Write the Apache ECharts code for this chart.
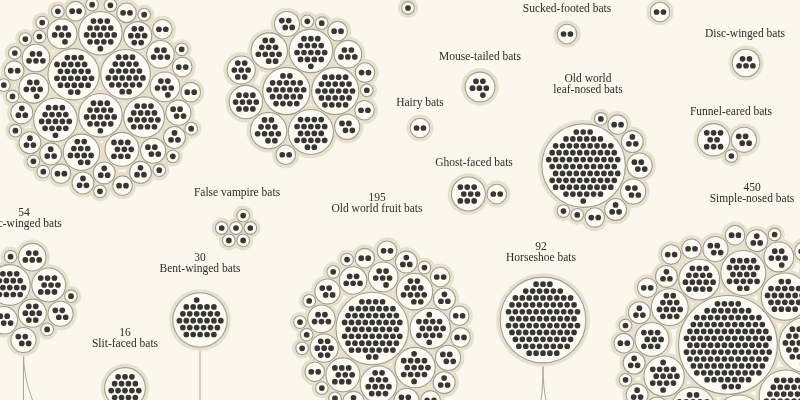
<!DOCTYPE html>
<html><head><meta charset="utf-8">
<script src="https://cdn.jsdelivr.net/npm/echarts/dist/echarts.min.js"></script>
<style>html,body{margin:0;padding:0;background:#FBF7EC;}#c{width:800px;height:400px;}</style>
</head><body><div id="c"></div>
<script>
// ---------- DATA: species per genus, one array per family ----------
const newWorldLeafNosedBats = [26,25,17,17,17,16,11,9,7,6,6,6,5,5,4,4,3,3,3,3,3,3,3,2,2,2,2,2,2,2,2,1,1,1,1,1,1,1,1,1,1,1,1,1,1,1,1,1,1];
const freeTailedBats = [24,22,20,17,11,11,10,7,5,4,4,2,2,2,2,1,1,1];
const bumblebeeBats = [1];
const bulldogBats = [2];
const suckerFootedBats = [2];
const mouseTailedBats = [6];
const discWingedBats = [5];
const hairyBats = [2];
const oldWorldLeafNosedBats = [85,4,4,3,3,2,2,1,1,1];
const funnelEaredBats = [8,4,1];
const ghostFacedBats = [9,2];
const falseVampireBats = [1,1,1,1,1,1];
const sacWingedBats = [16,9,7,5,5,4,4,1,1,1,1];
const bentWingedBats = [30];
const slitFacedBats = [16];
const oldWorldFruitBats = [62,14,14,12,11,9,7,6,5,5,4,4,4,3,3,3,3,2,2,2,2,2,2,2,2,1,1,1,1,1,1,1,1,1,1];
const horseshoeBats = [92];
const simpleNosedBats = [125,32,28,24,22,20,18,16,14,12,10,9,8,8,7,7,6,6,5,5,5,4,4,4,4,3,3,3,3,3,2,2,2,2,2,2,2,2,2,2,1,1,1,1,1,1,1,1,1,1,1,1];

const familyNames = {
  suckerFooted:['Sucked-footed bats'], mouseTailed:['Mouse-tailed bats'], discWinged:['Disc-winged bats'],
  hairy:['Hairy bats'], oldWorldLeafNosed:['Old world','leaf-nosed bats'], funnelEared:['Funnel-eared bats'],
  ghostFaced:['Ghost-faced bats'], falseVampire:['False vampire bats'], sacWinged:['Sac-winged bats'],
  bentWinged:['Bent-winged bats'], slitFaced:['Slit-faced bats'], oldWorldFruit:['Old world fruit bats'],
  horseshoe:['Horseshoe bats'], simpleNosed:['Simple-nosed bats']
};
const familiesWithCount = ['sacWinged','bentWinged','slitFaced','oldWorldFruit','horseshoe','simpleNosed'];

// ---------- LAYOUT (positions only) ----------
const layout = {
  newWorldLeafNosed:{at:[99,98]}, freeTailed:{at:[301,88]}, bumblebee:{at:[408,8]}, bulldog:{at:[660,12]},
  suckerFooted:{at:[567,34],label:[567,9]}, mouseTailed:{at:[480,87],label:[480,57]},
  discWinged:{at:[746,63],label:[745,34]}, hairy:{at:[420,128],label:[420,103]},
  oldWorldLeafNosed:{at:[597,170],label:[588,79]}, funnelEared:{at:[727,143],label:[731,112]},
  ghostFaced:{at:[479,194],label:[474,163]}, falseVampire:{at:[236,228],label:[237,193]},
  sacWinged:{at:[30,298],label:[24,213],stems:[0,9]}, bentWinged:{at:[200,320],label:[200,258],stems:[0]},
  slitFaced:{at:[125,388],label:[125,333]}, oldWorldFruit:{at:[382,332],label:[377,198]},
  horseshoe:{at:[543,320],label:[541,247],stems:[-2,3]}, simpleNosed:{at:[741,350],label:[752,188]}
};
const families = [
  ['newWorldLeafNosed',newWorldLeafNosedBats],['freeTailed',freeTailedBats],['bumblebee',bumblebeeBats],
  ['bulldog',bulldogBats],['suckerFooted',suckerFootedBats],['mouseTailed',mouseTailedBats],
  ['discWinged',discWingedBats],['hairy',hairyBats],['oldWorldLeafNosed',oldWorldLeafNosedBats],
  ['funnelEared',funnelEaredBats],['ghostFaced',ghostFacedBats],['falseVampire',falseVampireBats],
  ['sacWinged',sacWingedBats],['bentWinged',bentWingedBats],['slitFaced',slitFacedBats],
  ['oldWorldFruit',oldWorldFruitBats],['horseshoe',horseshoeBats],['simpleNosed',simpleNosedBats]
];

const SX=6.9, SY=6.9, DOT_R=2.85, PAD=3.5, GAP=1.6, HALO=3.8, LINE_H=10.5;

function dotLayout(n){
  const h=SX/2, offs=[[0,0],[h,0],[h,SY/3],[0,SY/2],[h/2,SY/4],[h,SY/2]];
  let best=null;
  const R=Math.sqrt(n)*5+12, jr=Math.ceil(R/SY)+1, ir=Math.ceil(R/SX)+1;
  for(const [ox,oy] of offs){
    const pts=[];
    for(let j=-jr;j<=jr;j++)for(let i=-ir;i<=ir;i++){
      const x=i*SX+(Math.abs(j)%2?SX/2:0), y=j*SY;
      pts.push([x,y,Math.hypot(x-ox,y-oy),Math.atan2(y-oy,x-ox)]);
    }
    pts.sort((a,b)=>Math.abs(a[2]-b[2])>1e-6?a[2]-b[2]:a[3]-b[3]);
    const sel=pts.slice(0,n);
    let cx=0,cy=0; sel.forEach(p=>{cx+=p[0];cy+=p[1];}); cx/=n; cy/=n;
    const d=sel.map(p=>[p[0]-cx,p[1]-cy]);
    const mr=Math.max(...d.map(p=>Math.hypot(p[0],p[1])));
    if(!best||mr<best.mr-1e-6) best={mr,d};
  }
  return best;
}

function pack(items){
  const order=items.slice().sort((a,b)=>b.r-a.r);
  const placed=[];
  for(const c of order){
    if(!placed.length){c.x=0;c.y=0;placed.push(c);continue;}
    if(placed.length===1){c.x=placed[0].r+c.r+GAP;c.y=0;placed.push(c);continue;}
    let sw=0,mx=0,my=0;
    for(const p of placed){const w=p.r*p.r;sw+=w;mx+=p.x*w;my+=p.y*w;}
    mx/=sw;my/=sw;
    let best=null,bestD=Infinity;
    for(let a=0;a<placed.length;a++)for(let b=a+1;b<placed.length;b++){
      const A=placed[a],B=placed[b];
      const ra=A.r+c.r+GAP, rb=B.r+c.r+GAP;
      const dx=B.x-A.x, dy=B.y-A.y, d=Math.hypot(dx,dy);
      if(d===0||d>ra+rb||d<Math.abs(ra-rb))continue;
      const aa=(ra*ra-rb*rb+d*d)/(2*d), h=Math.sqrt(Math.max(0,ra*ra-aa*aa));
      const px=A.x+aa*dx/d, py=A.y+aa*dy/d;
      for(const s of [1,-1]){
        const x=px-s*h*dy/d, y=py+s*h*dx/d;
        const dist=Math.hypot(x-mx,y-my);
        if(dist>=bestD)continue;
        let ok=true;
        for(const q of placed){if(Math.hypot(x-q.x,y-q.y)<q.r+c.r+GAP-1e-6){ok=false;break;}}
        if(ok){best=[x,y];bestD=dist;}
      }
    }
    c.x=best[0];c.y=best[1];placed.push(c);
  }
  return placed;
}

const haloData=[], circleData=[], dotData=[], labelItems=[], stemData=[];
for(const [key,genera] of families){
  const L=layout[key];
  const items=genera.map(n=>{const dl=dotLayout(n);return {n,dots:dl.d,r:dl.mr+DOT_R+PAD};});
  const placed=pack(items);
  let x0=Infinity,x1=-Infinity,y0=Infinity,y1=-Infinity;
  placed.forEach(c=>{x0=Math.min(x0,c.x-c.r-HALO);x1=Math.max(x1,c.x+c.r+HALO);y0=Math.min(y0,c.y-c.r-HALO);y1=Math.max(y1,c.y+c.r+HALO);});
  const ox=L.at[0]-(x0+x1)/2, oy=L.at[1]-(y0+y1)/2;
  let low=null;
  placed.forEach(c=>{
    const cx=c.x+ox, cy=c.y+oy;
    haloData.push([cx,cy,c.r+HALO]);
    circleData.push([cx,cy,c.r]);
    c.dots.forEach(d=>dotData.push([cx+d[0],cy+d[1],DOT_R]));
    if(!low||cy+c.r>low[1]+low[2]) low=[cx,cy,c.r];
  });
  if(L.stems){
    const sx=low[0], sy=low[1]+low[2];
    L.stems.forEach(e=>stemData.push([sx,sy,sx+e,400,sx,sy+25]));
  }
  if(L.label){
    const total=genera.reduce((s,v)=>s+v,0);
    const lines=(familiesWithCount.includes(key)?[String(total)]:[]).concat(familyNames[key]);
    lines.forEach((t,i)=>labelItems.push({x:L.label[0],y:L.label[1]+i*LINE_H,t}));
  }
}

function circleSeries(data,style){
  return {type:'custom',coordinateSystem:'cartesian2d',data,silent:true,animation:false,
    renderItem:(p,api)=>{const c=api.coord([api.value(0),api.value(1)]);const r=api.size([api.value(2),0])[0];
      return {type:'circle',shape:{cx:c[0],cy:c[1],r},style};}};
}

const chart=echarts.init(document.getElementById('c'),null,{renderer:'canvas'});
chart.setOption({
  backgroundColor:'#FBF7EC',
  grid:{left:0,right:0,top:0,bottom:0},
  xAxis:{type:'value',min:0,max:800,show:false},
  yAxis:{type:'value',min:0,max:400,inverse:true,show:false},
  series:[
    {type:'custom',coordinateSystem:'cartesian2d',data:stemData,silent:true,animation:false,
      renderItem:(p,api)=>{const a=api.coord([api.value(0),api.value(1)]),b=api.coord([api.value(2),api.value(3)]),c=api.coord([api.value(4),api.value(5)]);
        return {type:'bezierCurve',shape:{x1:a[0],y1:a[1],x2:b[0],y2:b[1],cpx1:c[0],cpy1:c[1]},style:{stroke:'#ADA79A',lineWidth:1,fill:null}};}},
    circleSeries(haloData,{fill:'#E7E0CD'}),
    circleSeries(circleData,{fill:'#FDFAF3',stroke:'#A39D8E',lineWidth:1.1}),
    circleSeries(dotData,{fill:'#383532'}),
    {type:'custom',coordinateSystem:'cartesian2d',data:labelItems.map(l=>[l.x,l.y]),silent:true,animation:false,
      renderItem:(p,api)=>{const c=api.coord([api.value(0),api.value(1)]);
        return {type:'text',x:c[0],y:c[1],style:{text:labelItems[p.dataIndex].t,fill:'#2E2B28',fontSize:11.5,fontFamily:'Liberation Serif',align:'center',verticalAlign:'middle'}};}}
  ]
});
</script></body></html>
